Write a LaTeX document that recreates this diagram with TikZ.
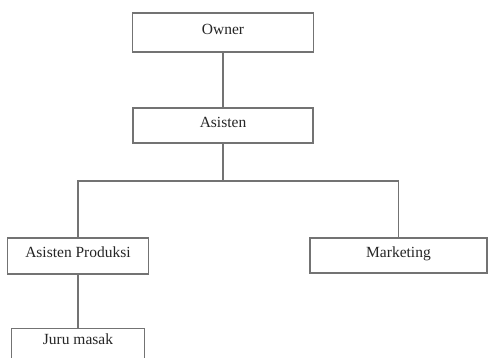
\documentclass[tikz,border=0pt]{standalone}
\usepackage{fontspec}
\setmainfont{Liberation Serif}
\begin{document}
\begin{tikzpicture}[x=1pt,y=-1pt,
  boxtext/.style={inner sep=0pt, font=\fontsize{15.5}{17}\selectfont, text=black!85,
    text depth=7pt},
  orgbox/.style={boxtext, draw=black!55, line width=1.3pt, fill=white},
  link/.style={draw=black!55, line width=1.3pt}]
  \useasboundingbox (0,0) rectangle (488,358);
  % boxes
  \node[orgbox, minimum width=181pt, minimum height=39pt] (owner) at (223,32.5) {Owner};
  \node[orgbox, minimum width=180pt, minimum height=35pt] (asisten) at (223,125.5) {Asisten};
  \node[orgbox, minimum width=141pt, minimum height=36pt] (prod) at (78,256) {Asisten Produksi};
  \node[orgbox, minimum width=177pt, minimum height=35pt] (mkt) at (398.5,255.5) {Marketing};
  % bottom box runs past the lower edge of the page
  \node[boxtext, minimum width=132pt, minimum height=28pt] (juru) at (78,343) {Juru masak};
  \draw[link] ([yshift=-30pt]juru.south west) -- (juru.north west)
    -- (juru.north east) -- ([yshift=-30pt]juru.south east);
  % connectors
  \coordinate (bus) at (223,181);
  \draw[link] (owner.south) -- (asisten.north);
  \draw[link] (asisten.south) -- (bus);
  \draw[link] (prod.north) |- (bus) -| (mkt.north);
  \draw[link] (prod.south) -- (juru.north);
\end{tikzpicture}
\end{document}
